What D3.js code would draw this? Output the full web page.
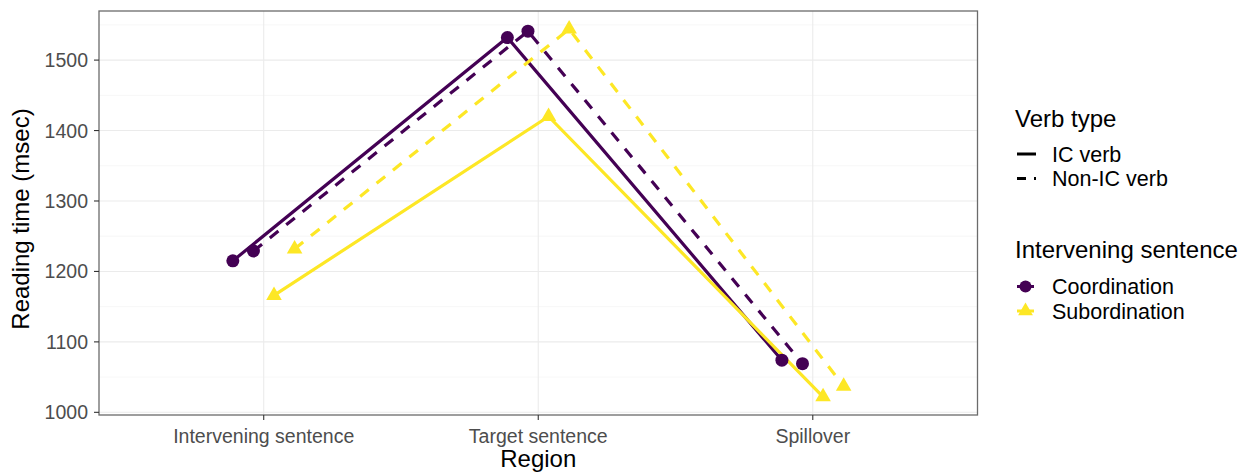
<!DOCTYPE html>
<html lang="en">
<head>
  <meta charset="UTF-8">
  <title>Reading time by region</title>
  <script src="https://d3js.org/d3.v7.min.js"></script>
  <style>
    body { margin: 0; background: #fff; }
    svg { font-family: "Liberation Sans", Arial, sans-serif; }
    .grid-major { stroke: #EBEBEB; stroke-width: 1.1; }
    .grid-minor { stroke: #F2F2F2; stroke-width: 0.6; }
    .tick-label { fill: #4D4D4D; font-size: 19.5px; }
    .axis-title { fill: #000; font-size: 24px; }
    .legend-title { fill: #000; font-size: 24px; }
    .legend-label { fill: #000; font-size: 21.5px; }
  </style>
</head>
<body>
<div id="chart"></div>
<script>
  // x categories
  const regions = ["Intervening sentence", "Target sentence", "Spillover"];

  // mean reading times (msec)
  const coordIC    = [1215, 1532, 1074];
  const coordNonIC = [1229, 1541, 1069];
  const subIC      = [1166, 1420, 1022];
  const subNonIC   = [1232, 1544, 1037];

  const yTicks = [1000, 1100, 1200, 1300, 1400, 1500];
  const yMinorTicks = [1050, 1150, 1250, 1350, 1450, 1550];

  const verbTypes = ["IC verb", "Non-IC verb"];
  const sentenceTypes = ["Coordination", "Subordination"];

  const purple = "#440154", yellow = "#FDE725";

  // groups in dodge order
  const series = [
    { values: coordIC,    sentence: 0, verb: 0 },
    { values: coordNonIC, sentence: 0, verb: 1 },
    { values: subIC,      sentence: 1, verb: 0 },
    { values: subNonIC,   sentence: 1, verb: 1 }
  ];
  const dodge = [-0.1125, -0.0375, 0.0375, 0.1125];

  const width = 1255, height = 473;
  const panel = { left: 99, right: 977.5, top: 11, bottom: 415 };

  const svg = d3.select("#chart").append("svg")
    .attr("width", width)
    .attr("height", height);

  const x = d3.scalePoint()
    .domain(regions)
    .range([panel.left, panel.right])
    .padding(0.6);

  const y = d3.scaleLinear()
    .domain([996.2, 1569.7])
    .range([panel.bottom, panel.top]);

  const step = x.step();

  // grid lines
  svg.append("g").selectAll("line")
    .data(yMinorTicks)
    .enter().append("line")
    .attr("class", "grid-minor")
    .attr("x1", panel.left).attr("x2", panel.right)
    .attr("y1", d => y(d)).attr("y2", d => y(d));

  svg.append("g").selectAll("line")
    .data(yTicks)
    .enter().append("line")
    .attr("class", "grid-major")
    .attr("x1", panel.left).attr("x2", panel.right)
    .attr("y1", d => y(d)).attr("y2", d => y(d));

  svg.append("g").selectAll("line")
    .data(regions)
    .enter().append("line")
    .attr("class", "grid-major")
    .attr("x1", d => x(d)).attr("x2", d => x(d))
    .attr("y1", panel.top).attr("y2", panel.bottom);

  // lines
  const line = d3.line()
    .x(d => d[0])
    .y(d => d[1]);

  series.forEach((s, i) => {
    const pts = s.values.map((v, j) => [x(regions[j]) + dodge[i] * step, y(v)]);
    svg.append("path")
      .attr("d", line(pts))
      .attr("fill", "none")
      .attr("stroke", s.sentence === 0 ? purple : yellow)
      .attr("stroke-width", 3.2)
      .attr("stroke-dasharray", s.verb === 1 ? "11,10" : null);
  });

  // points
  series.forEach((s, i) => {
    const g = svg.append("g");
    s.values.forEach((v, j) => {
      const cx = x(regions[j]) + dodge[i] * step, cy = y(v);
      if (s.sentence === 0) {
        g.append("circle")
          .attr("cx", cx).attr("cy", cy).attr("r", 6.5)
          .attr("fill", purple);
      } else {
        g.append("path")
          .attr("d", d3.symbol().type(d3.symbolTriangle).size(105)())
          .attr("transform", `translate(${cx},${cy})`)
          .attr("fill", yellow);
      }
    });
  });

  // panel border
  svg.append("rect")
    .attr("x", panel.left).attr("y", panel.top)
    .attr("width", panel.right - panel.left)
    .attr("height", panel.bottom - panel.top)
    .attr("fill", "none")
    .attr("stroke", "#6b6b6b")
    .attr("stroke-width", 1.3);

  // y axis
  const yAxis = svg.append("g");
  yTicks.forEach(t => {
    yAxis.append("line")
      .attr("x1", panel.left - 5).attr("x2", panel.left)
      .attr("y1", y(t)).attr("y2", y(t))
      .attr("stroke", "#333").attr("stroke-width", 1.1);
    yAxis.append("text")
      .attr("class", "tick-label")
      .attr("x", 88)
      .attr("y", y(t))
      .attr("dy", "0.36em")
      .attr("text-anchor", "end")
      .text(t);
  });

  // x axis
  const xAxis = svg.append("g");
  regions.forEach(r => {
    xAxis.append("line")
      .attr("x1", x(r)).attr("x2", x(r))
      .attr("y1", panel.bottom).attr("y2", panel.bottom + 5)
      .attr("stroke", "#333").attr("stroke-width", 1.1);
    xAxis.append("text")
      .attr("class", "tick-label")
      .attr("x", x(r))
      .attr("y", 443)
      .attr("text-anchor", "middle")
      .text(r);
  });

  // axis titles
  svg.append("text")
    .attr("class", "axis-title")
    .attr("x", (panel.left + panel.right) / 2)
    .attr("y", 467)
    .attr("text-anchor", "middle")
    .text("Region");

  svg.append("text")
    .attr("class", "axis-title")
    .attr("transform", "translate(29,219) rotate(-90)")
    .attr("text-anchor", "middle")
    .text("Reading time (msec)");

  // legend: verb type
  const leg = svg.append("g");
  leg.append("text")
    .attr("class", "legend-title")
    .attr("x", 1015).attr("y", 127)
    .text("Verb type");

  verbTypes.forEach((v, i) => {
    const ly = 154 + i * 24.5;
    leg.append("line")
      .attr("x1", 1017).attr("x2", 1036)
      .attr("y1", ly).attr("y2", ly)
      .attr("stroke", "#000").attr("stroke-width", 3)
      .attr("stroke-dasharray", i === 1 ? "9,8" : null);
    leg.append("text")
      .attr("class", "legend-label")
      .attr("x", 1052).attr("y", ly)
      .attr("dy", "0.36em")
      .text(v);
  });

  // legend: intervening sentence
  leg.append("text")
    .attr("class", "legend-title")
    .attr("x", 1015).attr("y", 258)
    .text("Intervening sentence");

  sentenceTypes.forEach((s, i) => {
    const ly = 286.5 + i * 24.5;
    const col = i === 0 ? purple : yellow;
    leg.append("line")
      .attr("x1", 1017).attr("x2", 1034)
      .attr("y1", ly).attr("y2", ly)
      .attr("stroke", col).attr("stroke-width", 3);
    if (i === 0) {
      leg.append("circle")
        .attr("cx", 1025.5).attr("cy", ly).attr("r", 6)
        .attr("fill", col);
    } else {
      leg.append("path")
        .attr("d", d3.symbol().type(d3.symbolTriangle).size(95)())
        .attr("transform", `translate(1025.5,${ly})`)
        .attr("fill", col);
    }
    leg.append("text")
      .attr("class", "legend-label")
      .attr("x", 1052).attr("y", ly)
      .attr("dy", "0.36em")
      .text(s);
  });
</script>
</body>
</html>
